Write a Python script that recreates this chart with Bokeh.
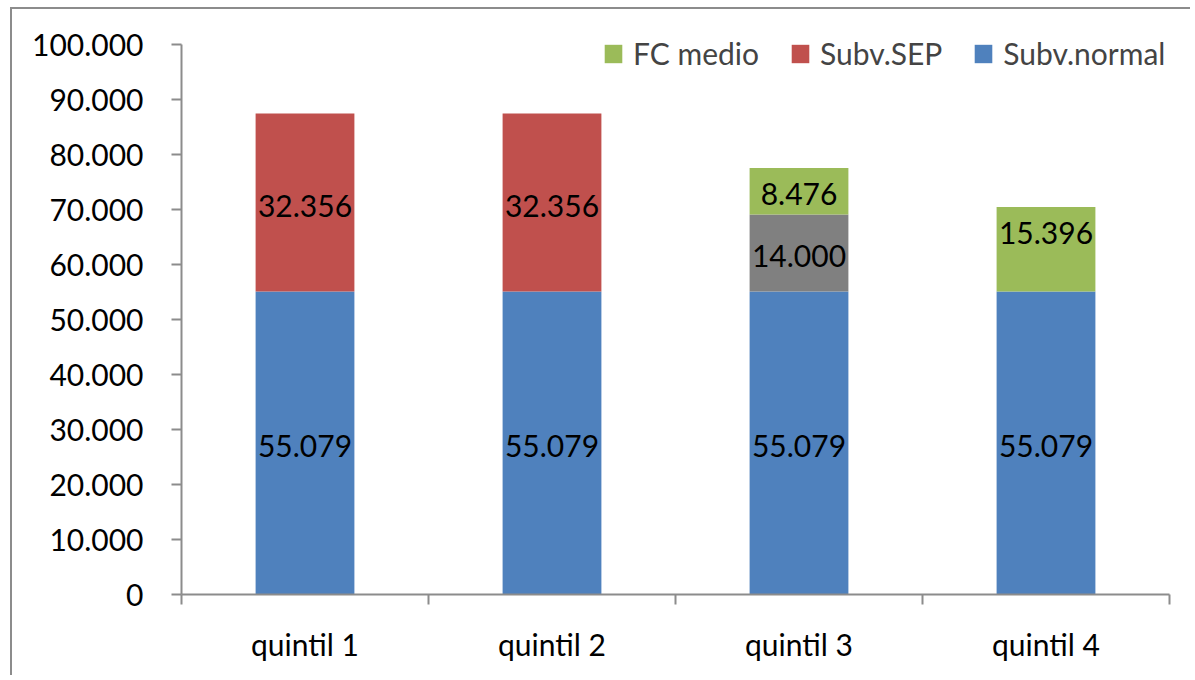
from bokeh.plotting import figure
from bokeh.models import Range1d, FixedTicker, Legend, LegendItem, ColumnDataSource
from bokeh.core.properties import value
from bokeh.embed import file_html
from bokeh.resources import INLINE

# ---- data ----
categories = ["quintil 1", "quintil 2", "quintil 3", "quintil 4"]
subv_normal = [55079, 55079, 55079, 55079]
subv_sep = [32356, 32356, 0, 0]
otro_gris = [0, 0, 14000, 0]
fc_medio = [0, 0, 8476, 15396]
y_ticks = [0, 10000, 20000, 30000, 40000, 50000, 60000, 70000, 80000, 90000, 100000]
y_tick_labels = ["0", "10.000", "20.000", "30.000", "40.000", "50.000",
                 "60.000", "70.000", "80.000", "90.000", "100.000"]

FONT = "Lato"
BLUE, RED, GRAY, GREEN = "#4F81BD", "#C0504D", "#808080", "#9BBB59"
AXIS_C = "#8C8C8C"

W, H = 1180, 668
BORDER_TOP, BORDER_BOTTOM = 5, 83
AXIS_PX = 550                       # pixel height of the 0..100.000 axis
frame_px = H - BORDER_TOP - BORDER_BOTTOM
y_max = y_ticks[-1]
y_end = y_max * frame_px / AXIS_PX  # headroom above the axis for the legend

p = figure(width=W, height=H, output_backend="svg", toolbar_location=None,
           x_range=Range1d(0, len(categories)), y_range=Range1d(0, y_end),
           min_border_left=169, min_border_right=23, min_border_top=BORDER_TOP,
           min_border_bottom=BORDER_BOTTOM)
p.outline_line_color = None
p.xgrid.visible = False
p.ygrid.visible = False
p.margin = (7, 0, 0, 10)
p.styles = {"border-left": "2px solid #8C8C8C", "border-top": "2px solid #8C8C8C"}

xs = [i + 0.5 for i in range(len(categories))]
bw = 0.4

series = [("Subv.normal", subv_normal, BLUE),
          ("Subv.SEP", subv_sep, RED),
          ("gris", otro_gris, GRAY),
          ("FC medio", fc_medio, GREEN)]

bottoms = [0] * len(categories)
renderers = {}
lx, ly, lt = [], [], []
for name, vals, col in series:
    tops = [b + v for b, v in zip(bottoms, vals)]
    src = ColumnDataSource(dict(x=xs, bottom=bottoms, top=tops))
    r = p.vbar(x="x", width=bw, bottom="bottom", top="top", source=src,
               fill_color=col, line_color=None)
    renderers[name] = r
    for x, b, v in zip(xs, bottoms, vals):
        if v > 0:
            lx.append(x)
            ly.append(b + v / 2)
            lt.append(f"{v / 1000:.3f}")
    bottoms = tops

# per-label pixel nudge (Excel placed the quintil 4 label near segment top)
nudges = [3] * len(lt)
nudges[-1] = -16
lsrc = ColumnDataSource(dict(x=lx, y=ly, t=lt, dy=nudges))
p.text(x="x", y="y", text="t", y_offset="dy", source=lsrc, text_align="center",
       text_baseline="middle", text_font=value(FONT), text_font_size="30px",
       text_color="black")

# y axis
ya = p.yaxis[0]
ya.ticker = FixedTicker(ticks=y_ticks, minor_ticks=[])
ya.major_label_overrides = {t: l for t, l in zip(y_ticks, y_tick_labels)}
ya.bounds = (0, y_max)
ya.axis_line_color = AXIS_C
ya.axis_line_width = 2
ya.major_tick_line_color = AXIS_C
ya.major_tick_line_width = 2
ya.major_tick_out = 10
ya.major_tick_in = 0
ya.minor_tick_line_color = None
ya.major_label_standoff = 28
ya.major_label_text_font = FONT
ya.major_label_text_font_size = "30px"
ya.major_label_text_color = "black"

# x axis: labels at centers, tick marks at boundaries
xa = p.xaxis[0]
xa.ticker = FixedTicker(ticks=xs, minor_ticks=list(range(len(categories) + 1)))
xa.major_label_overrides = {x: c for x, c in zip(xs, categories)}
xa.axis_line_color = AXIS_C
xa.axis_line_width = 2
xa.major_tick_line_color = None
xa.major_tick_out = 0
xa.major_tick_in = 0
xa.minor_tick_line_color = AXIS_C
xa.minor_tick_line_width = 2
xa.minor_tick_out = 10
xa.minor_tick_in = 0
xa.major_label_standoff = 21
xa.major_label_text_font = FONT
xa.major_label_text_font_size = "30px"
xa.major_label_text_color = "black"

# legend
legend = Legend(items=[LegendItem(label="FC medio", renderers=[renderers["FC medio"]]),
                       LegendItem(label="Subv.SEP", renderers=[renderers["Subv.SEP"]]),
                       LegendItem(label="Subv.normal", renderers=[renderers["Subv.normal"]])],
                orientation="horizontal", location=(421, 522),
                label_text_font=FONT, label_text_font_size="30px",
                glyph_width=22, glyph_height=23, label_standoff=9, spacing=30,
                padding=0, margin=0, background_fill_alpha=0,
                border_line_color=None, label_height=38)
p.add_layout(legend, "center")

open("out.html", "w").write(file_html(p, INLINE))
